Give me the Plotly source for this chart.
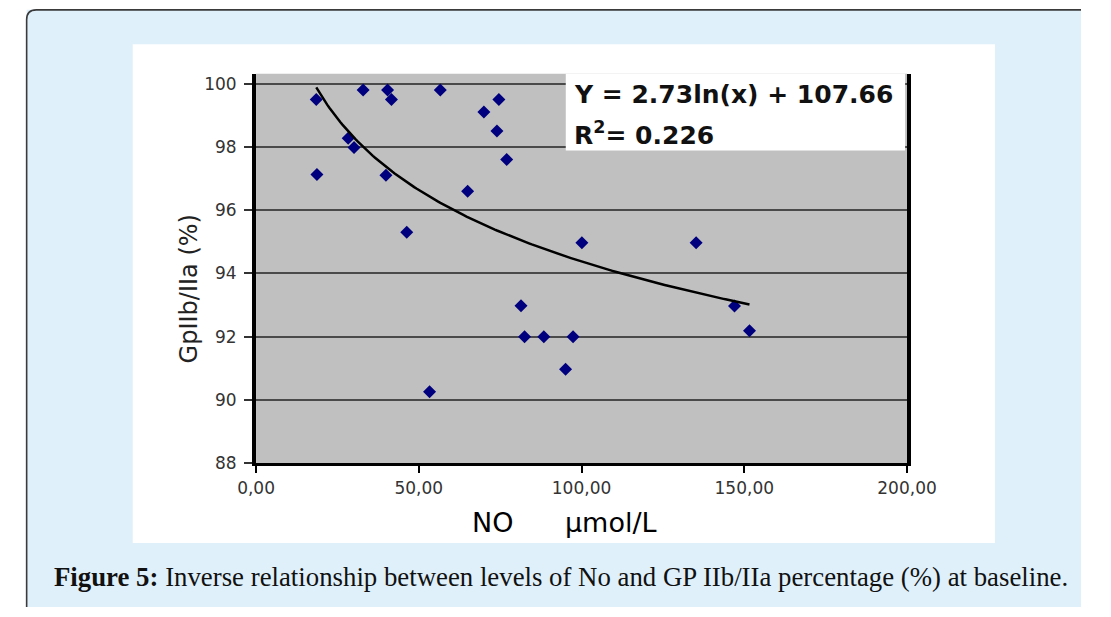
import numpy as np
import plotly.graph_objects as go

# ---------------- data ----------------
no_umol = [18.5, 18.7, 28.3, 30.1, 32.9, 39.9, 40.4, 41.6, 46.3, 53.3,
           56.6, 65.0, 70.0, 74.0, 74.6, 77.0, 81.4, 82.5, 88.4, 95.1,
           97.4, 100.1, 135.2, 147.0, 151.6]
gp_pct = [99.5, 97.13, 98.27, 97.98, 99.8, 97.1, 99.8, 99.5, 95.3, 90.26,
          99.8, 96.6, 99.1, 98.5, 99.5, 97.6, 92.98, 92.0, 92.0, 90.97,
          92.0, 94.97, 94.97, 92.97, 92.19]

# logarithmic trend line as drawn in the figure
trend_slope = -3.26
trend_intercept = 109.39

x_tick_vals = [0, 50, 100, 150, 200]
x_tick_text = ["0,00", "50,00", "100,00", "150,00", "200,00"]
y_tick_vals = [88, 90, 92, 94, 96, 98, 100]
y_tick_text = ["88", "90", "92", "94", "96", "98", "100"]

eq_line1 = "Y = 2.73ln(x) + 107.66"
eq_line2 = "R<sup>2</sup>= 0.226"
x_title = "NO\u00a0\u00a0\u00a0\u00a0\u00a0\u00a0µmol/L"
y_title = "GpIIb/IIa (%)"
caption_bold = "Figure 5:"
caption_text = " Inverse relationship between levels of No and GP IIb/IIa percentage (%) at baseline."

# ---------------- layout helpers ----------------
W, H = 1111, 617


def px(x):
    return x / W


def py(y):
    return 1 - y / H


trend_x = np.linspace(min(no_umol), max(no_umol), 200)
trend_y = trend_slope * np.log(trend_x) + trend_intercept

fig = go.Figure()
fig.add_trace(go.Scatter(
    x=no_umol, y=gp_pct, mode="markers",
    marker=dict(symbol="diamond", size=10, color="#00007f", line=dict(width=0)),
    showlegend=False, hoverinfo="x+y"))
fig.add_trace(go.Scatter(
    x=trend_x, y=trend_y, mode="lines",
    line=dict(color="black", width=2.5),
    showlegend=False, hoverinfo="skip"))

tick_font = dict(family="DejaVu Sans", size=17, color="#333333")

fig.update_layout(
    width=W, height=H,
    margin=dict(l=0, r=0, t=0, b=0),
    paper_bgcolor="white",
    plot_bgcolor="rgba(0,0,0,0)",
    xaxis=dict(
        domain=[px(248), px(929)], range=[0, 200],
        tickvals=x_tick_vals, ticktext=x_tick_text,
        showgrid=False, zeroline=False,
        showline=True, linecolor="black", linewidth=3,
        ticks="outside", ticklen=7, tickwidth=2, tickcolor="black",
        tickfont=tick_font, ticklabelstandoff=0,
    ),
    yaxis=dict(
        domain=[py(471), py(75)], range=[88, 100.31],
        tickvals=y_tick_vals, ticktext=y_tick_text,
        showgrid=True, gridcolor="#4a4a4a", gridwidth=1.6,
        zeroline=False,
        showline=True, mirror=True, linecolor="black", linewidth=4,
        ticks="outside", ticklen=8, tickwidth=2, tickcolor="#333333",
        tickfont=tick_font, ticklabelstandoff=4,
    ),
    shapes=[
        # light blue figure box fill
        dict(type="rect", xref="paper", yref="paper", layer="below",
             x0=px(8), x1=1, y0=0, y1=py(10),
             fillcolor="#dff0fb", line=dict(width=0)),
        # box border with rounded top-left corner (left and top sides only)
        dict(type="path", xref="paper", yref="paper", layer="below",
             path=(f"M {px(8)},0 L {px(8)},{py(20)} "
                   f"Q {px(8)},{py(10)} {px(18)},{py(10)} "
                   f"L 1,{py(10)}"),
             fillcolor="rgba(0,0,0,0)", line=dict(color="#3a3a3a", width=1.6)),
        # white chart area
        dict(type="rect", xref="paper", yref="paper", layer="below",
             x0=px(119), x1=px(1021), y0=py(552), y1=py(45),
             fillcolor="white", line=dict(width=0)),
        # grey plot area
        dict(type="rect", xref="x domain", yref="y domain", layer="below",
             x0=0, x1=1, y0=0, y1=1,
             fillcolor="#c0c0c0", line=dict(width=0)),
        # white equation box
        dict(type="rect", xref="paper", yref="paper", layer="above",
             x0=px(572), x1=px(927), y0=py(153), y1=py(75),
             fillcolor="white", line=dict(width=0)),
    ],
    annotations=[
        dict(text=f"<b>{eq_line1}</b>", xref="paper", yref="paper",
             x=px(579), y=py(96), xanchor="left", yanchor="middle",
             showarrow=False,
             font=dict(family="DejaVu Sans", size=25, color="#111111")),
        dict(text=f"<b>{eq_line2}</b>", xref="paper", yref="paper",
             x=px(579), y=py(136), xanchor="left", yanchor="middle",
             showarrow=False,
             font=dict(family="DejaVu Sans", size=25, color="#111111")),
        dict(text=x_title, xref="paper", yref="paper",
             x=px(571), y=py(531), xanchor="center", yanchor="middle",
             showarrow=False,
             font=dict(family="DejaVu Sans", size=27, color="black")),
        dict(text=y_title, xref="paper", yref="paper", textangle=-90,
             x=px(178), y=py(294), xanchor="center", yanchor="middle",
             showarrow=False,
             font=dict(family="DejaVu Sans", size=24, color="#222222")),
        dict(text=f"<b>{caption_bold}</b>{caption_text}", xref="paper", yref="paper",
             x=px(35), y=py(587), xanchor="left", yanchor="middle",
             showarrow=False,
             font=dict(family="Liberation Serif", size=26.8, color="#111111")),
    ],
)

fig.write_html("out.html", config={"displayModeBar": False})
